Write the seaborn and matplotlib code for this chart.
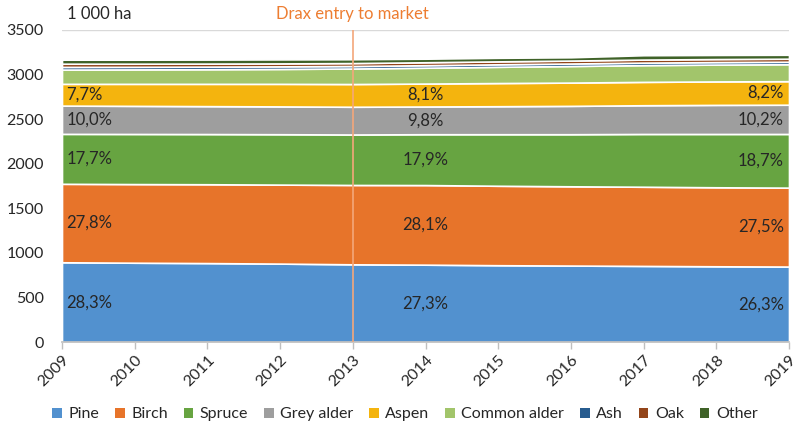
import numpy as np
import matplotlib
matplotlib.use("Agg")
import matplotlib.pyplot as plt
from matplotlib.patches import Patch
import seaborn as sns

# ---- data (1 000 ha) ----
years = [2009, 2010, 2011, 2012, 2013, 2014, 2015, 2016, 2017, 2018, 2019]
species = ["Pine", "Birch", "Spruce", "Grey alder", "Aspen", "Common alder", "Ash", "Oak", "Other"]

pine = [895, 890, 886, 880, 872, 868, 862, 858, 854, 850, 847]
birch = [880, 882, 884, 886, 890, 893, 891, 889, 888, 886, 885]
spruce = [560, 562, 563, 565, 566, 570, 578, 584, 592, 598, 602]
grey_alder = [317, 315, 313, 312, 311, 311, 314, 318, 322, 326, 328]
aspen = [244, 247, 250, 253, 255, 257, 260, 261, 262, 263, 264]
common_alder = [160, 162, 164, 167, 174, 178, 182, 186, 188, 189, 190]
ash = [30, 29, 29, 29, 28, 28, 28, 28, 28, 28, 28]
oak = [36, 35, 34, 33, 33, 33, 33, 33, 34, 34, 34]
other = [45, 45, 45, 45, 43, 40, 40, 37, 49, 46, 44]

series = [pine, birch, spruce, grey_alder, aspen, common_alder, ash, oak, other]
colors = ["#5291CF", "#E7742A", "#67A441", "#9E9E9E", "#F4B40E",
          "#A2C56B", "#275C8F", "#93451A", "#3F6228"]

label_years = [2009, 2014, 2019]   # years carrying percentage labels
labelled = 5                        # first five species get labels
entry_year = 2013

# ---- style ----
sns.set_theme(style="white")
plt.rcParams["font.family"] = ["Lato", "DejaVu Sans"]

fig = plt.figure(figsize=(8.02, 4.26), dpi=100)
ax = fig.add_axes([0.0773, 0.197, 0.9065, 0.7326])

ax.set_axisbelow(True)
ax.yaxis.grid(True, color="#D9D9D9", linewidth=1)
ax.stackplot(years, *series, colors=colors, edgecolor="white", linewidth=1.2, zorder=2)

ax.set_xlim(years[0], years[-1])
ax.set_ylim(0, 3500)
ax.set_yticks(np.arange(0, 3501, 500))
ax.set_xticks(years)
ax.set_xticklabels([str(y) for y in years], rotation=45, ha="right",
                   rotation_mode="anchor", fontsize=11.5)
ax.tick_params(axis="y", labelsize=11.5, length=0, pad=13)
ax.tick_params(axis="x", length=5, color="#BFBFBF", width=1, pad=3, direction="out",
               bottom=True)
for s in ["top", "right", "left"]:
    ax.spines[s].set_visible(False)
ax.spines["bottom"].set_color("#BFBFBF")
ax.spines["bottom"].set_zorder(3)

# percentage labels
data = np.array(series, dtype=float)
totals = data.sum(axis=0)
cum = np.cumsum(data, axis=0)
for yr in label_years:
    i = years.index(yr)
    for k in range(labelled):
        mid = cum[k, i] - data[k, i] / 2
        pct = f"{100 * data[k, i] / totals[i]:.1f}%".replace(".", ",")
        if yr == years[0]:
            ax.text(yr + 0.06, mid, pct, ha="left", va="center", fontsize=12, zorder=5)
        elif yr == years[-1]:
            ax.text(yr - 0.07, mid, pct, ha="right", va="center", fontsize=12, zorder=5)
        else:
            ax.text(yr, mid, pct, ha="center", va="center", fontsize=12, zorder=5)

# market entry marker
ax.axvline(entry_year, color="#F4A77A", linewidth=1.2, zorder=4)
ax.text(entry_year, 3680, "Drax entry to market", ha="center", va="center",
        color="#ED7D31", fontsize=12)
ax.text(2009.07, 3680, "1 000 ha", ha="left", va="center", fontsize=12)

handles = [Patch(facecolor=c, edgecolor="none") for c in colors]
fig.legend(handles, species, loc="center", bbox_to_anchor=(0.505, 0.027), ncol=len(species),
           frameon=False, fontsize=11.5, handlelength=0.6, handleheight=0.6,
           handletextpad=0.4, columnspacing=1.0)

fig.savefig("out.png", dpi=100)
